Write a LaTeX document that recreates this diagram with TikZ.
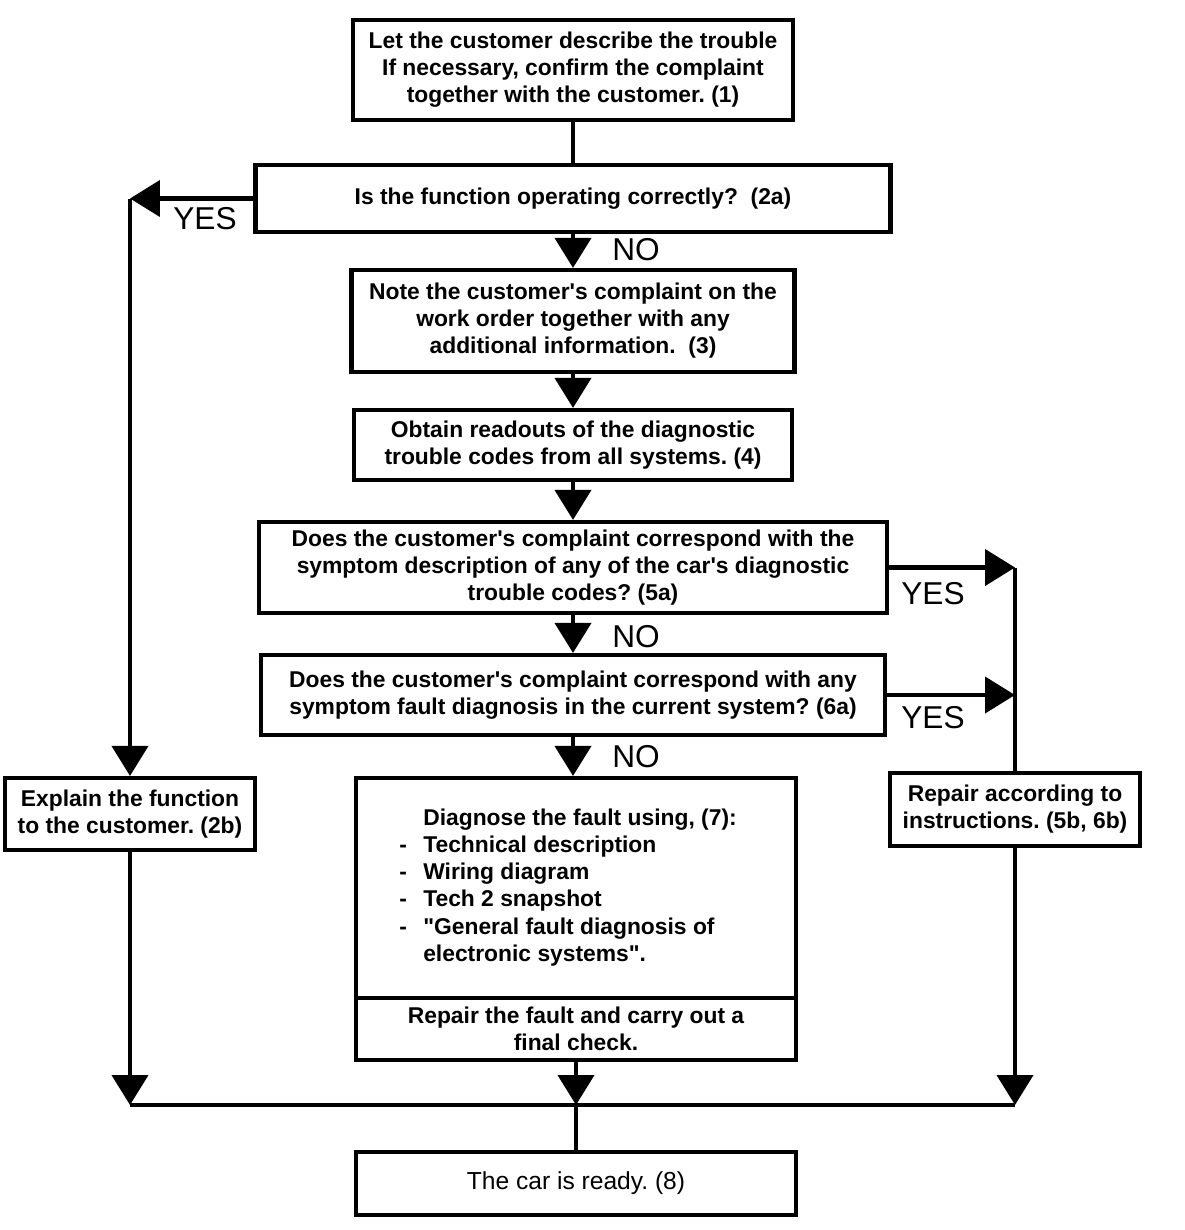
\documentclass[tikz,border=0pt]{standalone}
\usepackage{fontspec}
\setmainfont{Liberation Sans}
\usetikzlibrary{arrows.meta}
\frenchspacing

\begin{document}
\begin{tikzpicture}[x=0.02cm, y=-0.02cm, line width=2.4pt,
    >={Triangle[length=0.6cm, width=0.72cm]},
    box/.style={draw, line width=2.4pt, align=center, inner sep=2pt,
      font=\bfseries\fontsize{13}{15.4}\selectfont},
    lab/.style={inner sep=0pt, font=\fontsize{18}{20}\selectfont}]
        \useasboundingbox (0,0) rectangle (1184,1230);

        \node[box, minimum width=8.8cm, minimum height=2cm] (B1) at (573,70)
          {Let the customer describe the trouble\\If necessary, confirm the complaint\\together with the customer. (1)};
        \node[box, minimum width=12.7cm, minimum height=1.34cm] (Q2a) at (573,198.5)
          {Is the function operating correctly?~~(2a)};
        \node[box, minimum width=8.86cm, minimum height=2.04cm] (Note) at (573,321)
          {Note the customer\textquotesingle s complaint on the\\work order together with any\\additional information.~~(3)};
        \node[box, minimum width=8.76cm, minimum height=1.4cm] (Read) at (573,445)
          {Obtain readouts of the diagnostic\\trouble codes from all systems. (4)};
        \node[box, minimum width=12.56cm, minimum height=1.82cm] (Q5a) at (573,567.5)
          {Does the customer\textquotesingle s complaint correspond with the\\symptom description of any of the car\textquotesingle s diagnostic\\trouble codes? (5a)};
        \node[box, minimum width=12.48cm, minimum height=1.6cm] (Q6a) at (573,695)
          {Does the customer\textquotesingle s complaint correspond with any\\symptom fault diagnosis in the current system? (6a)};
        \node[box, minimum width=5cm, minimum height=1.44cm] (Expl) at (130,814)
          {Explain the function\\to the customer. (2b)};
        \node[box, minimum width=5cm, minimum height=1.46cm] (Rep) at (1015,809.5)
          {Repair according to\\instructions. (5b, 6b)};
        \node[box, minimum width=8.8cm, minimum height=4.4cm] (Diag) at (576,888)
          {\begin{tabular}{@{}p{0.48cm}@{}l@{\hspace{0.32cm}}}
             & Diagnose the fault using, (7):\\
           - & Technical description\\
           - & Wiring diagram\\
           - & Tech 2 snapshot\\
           - & \textquotedbl General fault diagnosis of\\
             & electronic systems\textquotedbl .
           \end{tabular}};
        \node[box, minimum width=8.8cm, minimum height=1.24cm] (Fix) at (576,1029)
          {Repair the fault and carry out a\\final check.};
        \node[box, minimum width=8.8cm, minimum height=1.26cm,
          font=\fontsize{14}{16}\selectfont] (Done) at (576,1183.5)
          {The car is ready. (8)};

        \coordinate (L1) at (Q2a.west -| Expl.north);
        \coordinate (R1) at (Q5a.east -| Rep.north);
        \coordinate (R2) at (Q6a.east -| Rep.north);
        \coordinate (J1) at (130,1105);
        \coordinate (J2) at (576,1105);
        \coordinate (J3) at (1015,1105);

        \node[lab] (yesA) at (205,219) {YES};
        \node[lab] (noA) at (636,250) {NO};
        \node[lab] (yesB) at (933,594) {YES};
        \node[lab] (noB) at (636,637) {NO};
        \node[lab] (yesC) at (933,718) {YES};
        \node[lab] (noC) at (636,757) {NO};

        \draw (B1) -- (Q2a);
        \draw[->] (Q2a.south) -- (Q2a.south |- Note.north);
        \draw[->] (Note) -- (Read);
        \draw[->] (Read) -- (Q5a);
        \draw[->] (Q5a) -- (Q6a);
        \draw[->] (Q6a.south) -- (Q6a.south |- Diag.north);

        \draw[->] (Q2a.west) -- (L1);
        \draw[->] (L1) -- (Expl.north);
        \draw[->] (Q5a.east) -- (R1);
        \draw[->] (Q6a.east) -- (R2);
        \draw (R1) -- (Rep.north);

        \draw[->] (Expl.south) -- (J1);
        \draw[->] (Fix.south) -- (J2);
        \draw[->] (Rep.south) -- (J3);
        \draw (J1) -- (J3);
        \draw (J2) -- (Done.north);
      \end{tikzpicture}
\end{document}
